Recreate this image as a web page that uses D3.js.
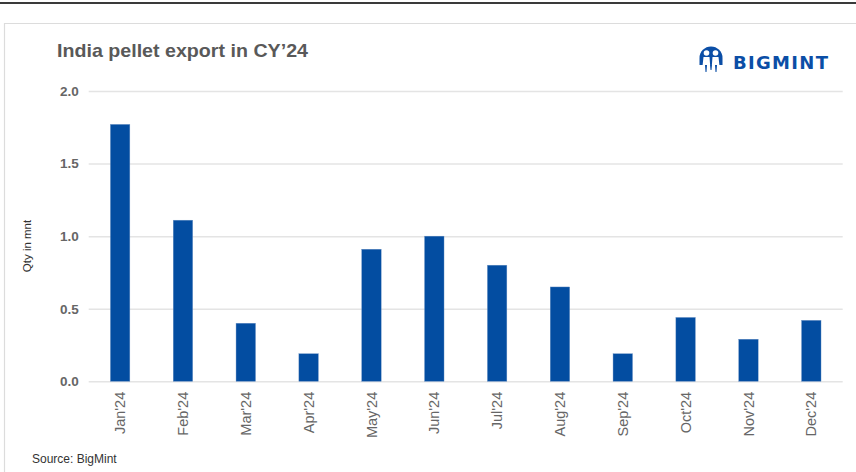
<!DOCTYPE html>
<html>
<head>
<meta charset="utf-8">
<script src="https://cdn.jsdelivr.net/npm/d3@7"></script>
<style>
  html, body { margin: 0; padding: 0; background: #fff; }
  svg { display: block; }
</style>
</head>
<body>
<svg id="chart" width="856" height="472"></svg>
<script>
const categories = ["Jan'24","Feb'24","Mar'24","Apr'24","May'24","Jun'24","Jul'24","Aug'24","Sep'24","Oct'24","Nov'24","Dec'24"];
const values = [1.77, 1.11, 0.40, 0.19, 0.91, 1.00, 0.80, 0.65, 0.19, 0.44, 0.29, 0.42];
const yTicks = [0, 0.5, 1.0, 1.5, 2.0];
const title = "India pellet export in CY\u201924";
const yLabel = "Qty in mnt";
const source = "Source: BigMint";

const svg = d3.select("#chart");
const font = "Liberation Sans, Arial, sans-serif";

// top dark rule and card border
svg.append("rect").attr("x", 0).attr("y", 2).attr("width", 856).attr("height", 2).attr("fill", "#3a3a3a");
svg.append("path").attr("d", "M4.5,472 V23.5 H856").attr("fill", "none").attr("stroke", "#dcdcdc").attr("stroke-width", 1.2);

const x = d3.scaleBand().domain(categories).range([88.7, 842.7]).paddingInner(0.69).paddingOuter(0.345);
const y = d3.scaleLinear().domain([0, 2]).range([381.3, 91]);

// gridlines + y axis
const yAxis = d3.axisLeft(y).tickValues(yTicks).tickFormat(d3.format(".1f")).tickSize(-(842.7 - 88.7)).tickPadding(10);
const gy = svg.append("g").attr("transform", "translate(88.7,0)").call(yAxis);
gy.select(".domain").remove();
gy.selectAll(".tick line").attr("stroke", "#e4e4e4").attr("stroke-width", 1.5);
gy.selectAll(".tick text").attr("fill", "#666").attr("font-family", font)
  .attr("font-size", 13.5).attr("font-weight", "bold");

// bars
svg.append("g").selectAll("rect").data(values).join("rect")
  .attr("x", (d, i) => x(categories[i]))
  .attr("y", d => y(d))
  .attr("width", x.bandwidth())
  .attr("height", d => y(0) - y(d))
  .attr("fill", "#034da1")
  .attr("stroke", "#6f95c6").attr("stroke-width", 0.4);

// x axis labels
const xAxis = d3.axisBottom(x).tickSize(0).tickPadding(0);
const gx = svg.append("g").attr("transform", "translate(0,381.3)").call(xAxis);
gx.select(".domain").remove();
gx.selectAll(".tick text")
  .attr("fill", "#666").attr("font-family", font).attr("font-size", 14.5)
  .attr("text-anchor", "end")
  .attr("transform", "rotate(-90)")
  .attr("x", -10.5).attr("y", 0).attr("dy", "0.35em");

// y label
svg.append("text").attr("transform", "translate(27,246) rotate(-90)")
  .attr("text-anchor", "middle").attr("dy", "0.35em")
  .attr("font-family", font).attr("font-size", 11.5).attr("fill", "#333")
  .text(yLabel);

// title
svg.append("text").attr("x", 57).attr("y", 57)
  .attr("font-family", font).attr("font-size", 19).attr("font-weight", "bold")
  .attr("fill", "#595959").attr("textLength", 251).attr("lengthAdjust", "spacingAndGlyphs")
  .text(title);

// source
svg.append("text").attr("x", 32).attr("y", 463)
  .attr("font-family", font).attr("font-size", 12).attr("fill", "#333")
  .text(source);

// logo
const blue = "#0b4ea6";
const logo = svg.append("g").attr("transform", "translate(711,59)");
logo.append("path").attr("d", "M-11.5,6 L-11.5,-1 A11.5,11.5 0 1,1 11.5,-1 L11.5,6 Z").attr("fill", blue);
logo.append("circle").attr("cx", -4.5).attr("cy", -6).attr("r", 2.8).attr("fill", "#fff");
logo.append("circle").attr("cx", 4.5).attr("cy", -6).attr("r", 2.8).attr("fill", "#fff");
logo.append("path").attr("d", "M-8.5,7 L-7.5,-2 L-1.5,-2 L-0.8,7 Z M0.8,7 L1.5,-2 L7.5,-2 L8.5,7 Z").attr("fill", "#fff");
logo.append("path").attr("d", "M-6,6 L-4,6 L-4.5,13 L-5.5,13 Z M4,6 L6,6 L5.5,13 L4.5,13 Z M-1,6 L1,6 L0.5,11 L-0.5,11 Z").attr("fill", blue);
svg.append("text").attr("x", 733).attr("y", 69)
  .attr("font-family", "DejaVu Sans, Liberation Sans, sans-serif").attr("font-size", 18).attr("font-weight", "bold")
  .attr("fill", blue).attr("textLength", 95).attr("lengthAdjust", "spacing")
  .text("BIGMINT");
</script>
</body>
</html>
